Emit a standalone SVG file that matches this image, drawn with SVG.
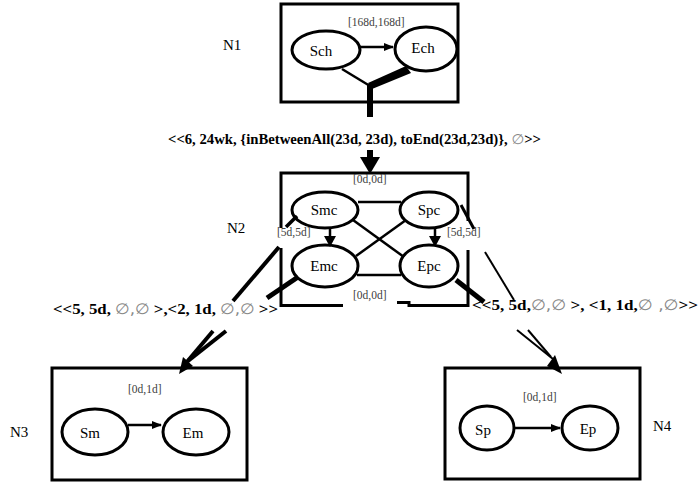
<svg xmlns="http://www.w3.org/2000/svg" width="700" height="485" viewBox="0 0 700 485">
<defs>
<style>
.box{fill:none;stroke:#000;stroke-width:3}
.el{fill:#fff;stroke:#000;stroke-width:3}
.ln{fill:none;stroke:#000}
.nt{font-family:"Liberation Serif","DejaVu Serif",serif;font-size:15px;fill:#000;text-anchor:middle}
.nl{font-family:"Liberation Serif","DejaVu Serif",serif;font-size:15px;fill:#000}
.sm{font-family:"Liberation Serif","DejaVu Serif",serif;font-size:11.5px;fill:#404040}
.bl{font-family:"Liberation Serif","DejaVu Serif",serif;font-weight:bold;fill:#000}
.es{font-family:"DejaVu Sans","Liberation Sans",sans-serif;font-weight:normal;fill:#888}
</style>
<marker id="ah" markerWidth="10" markerHeight="8" refX="9" refY="4" orient="auto" markerUnits="userSpaceOnUse">
<path d="M0,0 L10,4 L0,8 Z" fill="#000"/>
</marker>
</defs>

<g id="N1">
<rect class="box" x="281" y="4" width="177" height="98"/>
<text class="nl" x="223" y="50">N1</text>
<ellipse class="el" cx="326" cy="50" rx="34" ry="19"/>
<text class="nt" x="321" y="56">Sch</text>
<ellipse class="el" cx="426" cy="49" rx="31" ry="22"/>
<text class="nt" x="423" y="53">Ech</text>
<text class="sm" x="348" y="26">[168d,168d]</text>
<line class="ln" x1="360" y1="47" x2="393" y2="47" stroke-width="2.5" marker-end="url(#ah)"/>
</g>

<g id="N2">
<path class="box" d="M281,228 V173 H468 V221 M468,250 V305.5 H409 V302.5 H397 M343,305.5 H281 V248"/>
<text class="nl" x="227" y="233">N2</text>
<ellipse class="el" cx="325" cy="210" rx="33" ry="18"/>
<text class="nt" x="324" y="215">Smc</text>
<ellipse class="el" cx="429" cy="210" rx="29" ry="18"/>
<text class="nt" x="429" y="215">Spc</text>
<ellipse class="el" cx="325" cy="266" rx="33" ry="21"/>
<text class="nt" x="324" y="271">Emc</text>
<ellipse class="el" cx="429" cy="266" rx="29" ry="21"/>
<text class="nt" x="429" y="271">Epc</text>
<text class="sm" x="353" y="183">[0d,0d]</text>
<text class="sm" x="277" y="236">[5d,5d]</text>
<text class="sm" x="447" y="236">[5d,5d]</text>
<text class="sm" x="353" y="299">[0d,0d]</text>
<line class="ln" x1="358" y1="202" x2="401" y2="202" stroke-width="2.5"/>
<line class="ln" x1="357" y1="275" x2="401" y2="275" stroke-width="2.5"/>
<line class="ln" x1="353" y1="220" x2="404" y2="257" stroke-width="2.5"/>
<line class="ln" x1="406" y1="220" x2="356" y2="256" stroke-width="2.5"/>
<line class="ln" x1="330" y1="228" x2="330" y2="238" stroke-width="2.5"/>
<polygon points="324,236 336,236 330,247" fill="#000"/>
<line class="ln" x1="435" y1="228" x2="435" y2="238" stroke-width="2.5"/>
<polygon points="429,236 441,236 435,247" fill="#000"/>
</g>

<g id="N3">
<rect class="box" x="52" y="368" width="195" height="112"/>
<text class="nl" x="10" y="437">N3</text>
<ellipse class="el" cx="95" cy="432" rx="33" ry="23"/>
<text class="nt" x="90" y="438">Sm</text>
<ellipse class="el" cx="196" cy="432" rx="33" ry="23"/>
<text class="nt" x="193" y="438">Em</text>
<text class="sm" x="128" y="393">[0d,1d]</text>
<line class="ln" x1="128" y1="425" x2="161" y2="425" stroke-width="2.5" marker-end="url(#ah)"/>
</g>

<g id="N4">
<rect class="box" x="445" y="368" width="195" height="111"/>
<text class="nl" x="653" y="431">N4</text>
<ellipse class="el" cx="487" cy="428" rx="27" ry="22"/>
<text class="nt" x="483" y="435">Sp</text>
<ellipse class="el" cx="590" cy="428" rx="28" ry="22"/>
<text class="nt" x="588" y="434">Ep</text>
<text class="sm" x="523" y="401">[0d,1d]</text>
<line class="ln" x1="515" y1="428" x2="560" y2="428" stroke-width="2.5" marker-end="url(#ah)"/>
</g>

<g id="connectors">
<line class="ln" x1="342" y1="69" x2="370" y2="86" stroke-width="2.5"/>
<polygon points="406,66 411,73 372,89 368,83" fill="#000"/>
<line class="ln" x1="370" y1="84" x2="370" y2="117" stroke-width="6"/>
<text class="bl" x="168" y="144" font-size="14" textLength="373" lengthAdjust="spacingAndGlyphs">&lt;&lt;6, 24wk, {inBetweenAll(23d, 23d), toEnd(23d,23d)}, <tspan class="es">∅</tspan>&gt;&gt;</text>
<line class="ln" x1="370" y1="150" x2="370" y2="159" stroke-width="6"/>
<polygon points="360,157 380,157 370,174" fill="#000"/>

<line class="ln" x1="297" y1="216" x2="286" y2="227" stroke-width="3.5"/>
<line class="ln" x1="279" y1="247" x2="233" y2="301" stroke-width="4"/>
<line class="ln" x1="298" y1="277" x2="267" y2="298" stroke-width="5"/>
<text class="bl" x="53" y="314" font-size="15" textLength="225" lengthAdjust="spacingAndGlyphs">&lt;&lt;5, 5d, <tspan class="es">∅,∅</tspan> &gt;,&lt;2, 1d, <tspan class="es">∅,∅</tspan> &gt;&gt;</text>
<line class="ln" x1="213" y1="331" x2="186" y2="363" stroke-width="4"/>
<line class="ln" x1="226" y1="331" x2="188" y2="361" stroke-width="4"/>
<polygon points="179,374 193,366 183,357" fill="#000"/>

<line class="ln" x1="461" y1="205" x2="474" y2="229" stroke-width="3"/>
<line class="ln" x1="485" y1="252" x2="514" y2="300" stroke-width="2"/>
<line class="ln" x1="456" y1="280" x2="484" y2="302" stroke-width="5"/>
<text class="bl" x="472" y="310" font-size="15" textLength="226" lengthAdjust="spacingAndGlyphs">&lt;&lt;5, 5d,<tspan class="es">∅,∅</tspan> &gt;, &lt;1, 1d,<tspan class="es">∅ ,∅</tspan>&gt;&gt;</text>
<line class="ln" x1="517" y1="330" x2="553" y2="359" stroke-width="2"/>
<line class="ln" x1="528" y1="330" x2="551" y2="357" stroke-width="2"/>
<polygon points="562,374 555,355 547,366" fill="#000"/>
</g>
</svg>
